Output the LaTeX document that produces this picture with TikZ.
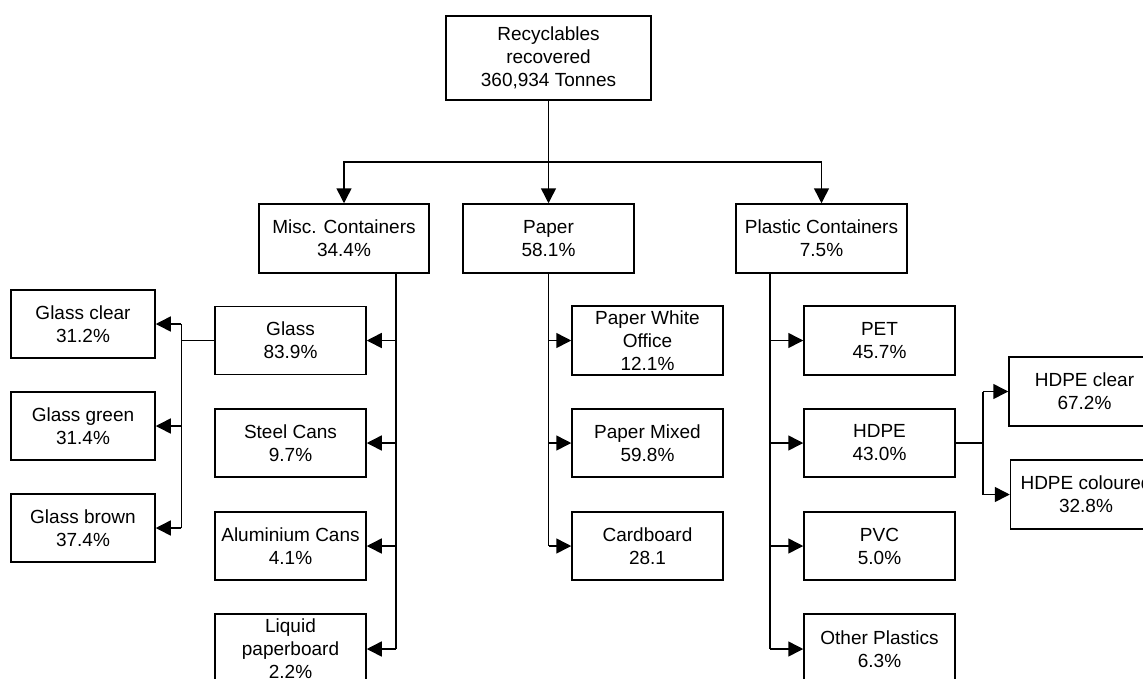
\documentclass[tikz,border=0pt]{standalone}
\usepackage{fontspec}
\setmainfont{Liberation Sans}
\usetikzlibrary{arrows.meta,calc,positioning}

\begin{document}
\begin{tikzpicture}[x=1pt,y=-1pt,line width=1.5pt,
  box/.style={draw,fill=white,inner sep=0pt,align=center,
    minimum width=151pt,minimum height=68pt,font=\fontsize{19}{23}\selectfont},
  arr/.style={-{Triangle[length=15pt,width=15pt]}}]
\clip (0,0) rectangle (1143,678);
\fill[white] (0,0) rectangle (1143,678);
% top and first level
\node[box,minimum width=205pt,minimum height=84pt] (top) at (548.5,58) {Recyclables\\recovered\\360,934 Tonnes};
\node[box,minimum width=170pt,minimum height=69pt] (misc) at (344,238.5) {Misc. Containers\\34.4\%};
\node[box,minimum width=171pt,minimum height=69pt] (paper) at (548.5,238.5) {Paper\\58.1\%};
\node[box,minimum width=171pt,minimum height=69pt] (plastic) at (821.5,238.5) {Plastic Containers\\7.5\%};
% misc containers
\node[box] (glass) at (290.5,340.5) {Glass\\83.9\%};
\node[box] (steel) at (290.5,443) {Steel Cans\\9.7\%};
\node[box] (alu) at (290.5,546) {Aluminium Cans\\4.1\%};
\node[box,minimum height=70pt] (liquid) at (290.5,649) {Liquid\\paperboard\\2.2\%};
\node[box,minimum width=144pt] (gclear) at (83,324) {Glass clear\\31.2\%};
\node[box,minimum width=144pt] (ggreen) at (83,426) {Glass green\\31.4\%};
\node[box,minimum width=144pt] (gbrown) at (83,528) {Glass brown\\37.4\%};
% paper
\node[box,minimum height=69pt] (pwhite) at (647.5,340.5) {Paper White\\Office\\12.1\%};
\node[box] (pmixed) at (647.5,443) {Paper Mixed\\59.8\%};
\node[box] (cardboard) at (647.5,546) {Cardboard\\28.1};
% plastic containers
\node[box,minimum height=69pt] (pet) at (879.5,340.5) {PET\\45.7\%};
\node[box] (hdpe) at (879.5,443) {HDPE\\43.0\%};
\node[box] (pvc) at (879.5,546) {PVC\\5.0\%};
\node[box,minimum height=70pt] (other) at (879.5,649) {Other Plastics\\6.3\%};
\node[box,minimum height=69pt] (hclear) at (1084.5,391.5) {HDPE clear\\67.2\%};
\node[box,minimum height=69pt] (hcol) at (1086,494.5) {HDPE coloured\\32.8\%};

\coordinate (split) at (548.5,162);
\draw (top.south) -- (split);
\draw[arr] (split) -| (misc.north);
\draw[arr] (split) -- (paper.north);
\draw[arr] (split) -| (plastic.north);

\coordinate (mbus) at ($(misc.south)+(52,0)$);
\draw (mbus) -- (mbus |- liquid);
\foreach \n in {glass,steel,alu,liquid}
  \draw[arr] (mbus |- \n) -- (\n.east);

\draw (glass.west) -- ++(-33,0) coordinate (gbus);
\draw (gbus |- gclear) -- (gbus |- gbrown);
\foreach \n in {gclear,ggreen,gbrown}
  \draw[arr] (gbus |- \n) -- (\n.east);

\draw (paper.south) -- (paper.south |- cardboard);
\foreach \n in {pwhite,pmixed,cardboard}
  \draw[arr] (paper.south |- \n) -- (\n.west);

\coordinate (pbus) at ($(plastic.south)+(-51.5,0)$);
\draw (pbus) -- (pbus |- other);
\foreach \n in {pet,hdpe,pvc,other}
  \draw[arr] (pbus |- \n) -- (\n.west);

\draw (hdpe.east) -- ++(27,0) coordinate (hbus);
\draw (hbus |- hclear) -- (hbus |- hcol);
\foreach \n in {hclear,hcol}
  \draw[arr] (hbus |- \n) -- (\n.west);
\end{tikzpicture}
\end{document}
